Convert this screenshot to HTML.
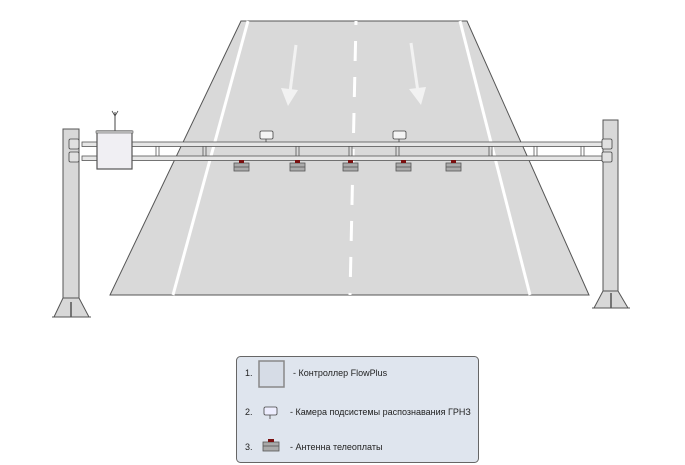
<!DOCTYPE html>
<html><head><meta charset="utf-8"><style>
body{margin:0;background:#fff;}
svg{display:block;}
text{font-family:"Liberation Sans",sans-serif;font-size:9px;fill:#222;}
</style></head><body>
<svg width="685" height="465" viewBox="0 0 685 465" xmlns="http://www.w3.org/2000/svg">
<polygon points="241,21 467,21 589,295 110,295" fill="#d9d9d9" stroke="#555" stroke-width="1"/>
<line x1="248" y1="21" x2="173" y2="295" stroke="#fff" stroke-width="3"/>
<line x1="460" y1="21" x2="530" y2="295" stroke="#fff" stroke-width="3"/>
<line x1="356" y1="21" x2="350" y2="295" stroke="#fff" stroke-width="3" stroke-dasharray="20,16" stroke-dashoffset="16"/>
<line x1="296" y1="45" x2="290" y2="92" stroke="#f2f2f2" stroke-width="3"/>
<polygon points="281,88 298,90 288,106" fill="#f2f2f2"/>
<line x1="411" y1="43" x2="418" y2="92" stroke="#f2f2f2" stroke-width="3"/>
<polygon points="409,89 426,87 421,105" fill="#f2f2f2"/>
<rect x="63" y="129" width="16" height="183" fill="#d8d8d8" stroke="#555"/>
<polygon points="54,317 63,298 79,298 89,317" fill="#d8d8d8" stroke="#555"/>
<line x1="71" y1="302" x2="71" y2="317" stroke="#333" stroke-width="1.2"/>
<line x1="52" y1="317" x2="91" y2="317" stroke="#555"/>
<rect x="603" y="120" width="15" height="188" fill="#d8d8d8" stroke="#555"/>
<polygon points="594,308 603,291 618,291 628,308" fill="#d8d8d8" stroke="#555"/>
<line x1="611" y1="293" x2="611" y2="308" stroke="#333" stroke-width="1.2"/>
<line x1="592" y1="308" x2="630" y2="308" stroke="#555"/>
<rect x="82" y="142" width="520" height="4.5" fill="#e6e6e6" stroke="#555" stroke-width="0.8"/>
<rect x="82" y="156" width="520" height="4.5" fill="#e6e6e6" stroke="#555" stroke-width="0.8"/>
<g stroke="#555" stroke-width="0.8">
<line x1="156" y1="146" x2="156" y2="156"/><line x1="159" y1="146" x2="159" y2="156"/>
<line x1="203" y1="146" x2="203" y2="156"/><line x1="206" y1="146" x2="206" y2="156"/>
<line x1="296" y1="146" x2="296" y2="156"/><line x1="299" y1="146" x2="299" y2="156"/>
<line x1="349" y1="146" x2="349" y2="156"/><line x1="352" y1="146" x2="352" y2="156"/>
<line x1="396" y1="146" x2="396" y2="156"/><line x1="399" y1="146" x2="399" y2="156"/>
<line x1="489" y1="146" x2="489" y2="156"/><line x1="492" y1="146" x2="492" y2="156"/>
<line x1="534" y1="146" x2="534" y2="156"/><line x1="537" y1="146" x2="537" y2="156"/>
<line x1="581" y1="146" x2="581" y2="156"/><line x1="584" y1="146" x2="584" y2="156"/>
</g>
<g fill="#e0e0e0" stroke="#444" stroke-width="0.8">
<rect x="69" y="139" width="10" height="10" rx="1.5"/><rect x="69" y="152" width="10" height="10" rx="1.5"/>
<rect x="602" y="139" width="10" height="10" rx="1.5"/><rect x="602" y="152" width="10" height="10" rx="1.5"/>
</g>
<line x1="115" y1="112" x2="115" y2="131" stroke="#444"/>
<path d="M112,111 L115,116 L118,111" fill="none" stroke="#444" stroke-width="0.8"/>
<rect x="97" y="131" width="35" height="38" fill="#f0eff3" stroke="#555" stroke-width="1.2"/>
<rect x="96" y="131" width="37" height="2" fill="#ddd" stroke="#555" stroke-width="0.6"/>
<g fill="#f4f4f4" stroke="#444" stroke-width="0.8">
<rect x="260" y="131" width="13" height="8" rx="1.5"/><line x1="266" y1="139" x2="266" y2="142"/>
<rect x="393" y="131" width="13" height="8" rx="1.5"/><line x1="399" y1="139" x2="399" y2="142"/>
</g>
<g stroke="#555" stroke-width="0.8">
<g transform="translate(234,160)"><rect x="0" y="3" width="15" height="8" fill="#aaa"/><line x1="0" y1="7" x2="15" y2="7"/><rect x="5" y="0" width="5" height="3" fill="#7a1010" stroke="none"/></g>
<g transform="translate(290,160)"><rect x="0" y="3" width="15" height="8" fill="#aaa"/><line x1="0" y1="7" x2="15" y2="7"/><rect x="5" y="0" width="5" height="3" fill="#7a1010" stroke="none"/></g>
<g transform="translate(343,160)"><rect x="0" y="3" width="15" height="8" fill="#aaa"/><line x1="0" y1="7" x2="15" y2="7"/><rect x="5" y="0" width="5" height="3" fill="#7a1010" stroke="none"/></g>
<g transform="translate(396,160)"><rect x="0" y="3" width="15" height="8" fill="#aaa"/><line x1="0" y1="7" x2="15" y2="7"/><rect x="5" y="0" width="5" height="3" fill="#7a1010" stroke="none"/></g>
<g transform="translate(446,160)"><rect x="0" y="3" width="15" height="8" fill="#aaa"/><line x1="0" y1="7" x2="15" y2="7"/><rect x="5" y="0" width="5" height="3" fill="#7a1010" stroke="none"/></g>
</g>
<rect x="236.5" y="356.5" width="242" height="106" rx="4" fill="#dfe5ee" stroke="#666"/>
<text x="245" y="376">1.</text>
<rect x="259" y="361" width="25" height="26" fill="#d6dce6" stroke="#888" stroke-width="1.5"/>
<text x="293" y="376">-  Контроллер FlowPlus</text>
<text x="245" y="415">2.</text>
<rect x="264" y="407" width="13" height="8" rx="1.5" fill="#eef" stroke="#444" stroke-width="0.8"/>
<line x1="270" y1="415" x2="270" y2="419" stroke="#444" stroke-width="0.8"/>
<text x="290" y="415">-  Камера подсистемы распознавания ГРНЗ</text>
<text x="245" y="450">3.</text>
<rect x="263" y="442" width="16" height="9" fill="#aaa" stroke="#555" stroke-width="0.8"/>
<line x1="263" y1="446" x2="279" y2="446" stroke="#555" stroke-width="0.8"/>
<rect x="268" y="439" width="6" height="3" fill="#7a1010"/>
<text x="290" y="450">-  Антенна телеоплаты</text>
</svg>
</body></html>
